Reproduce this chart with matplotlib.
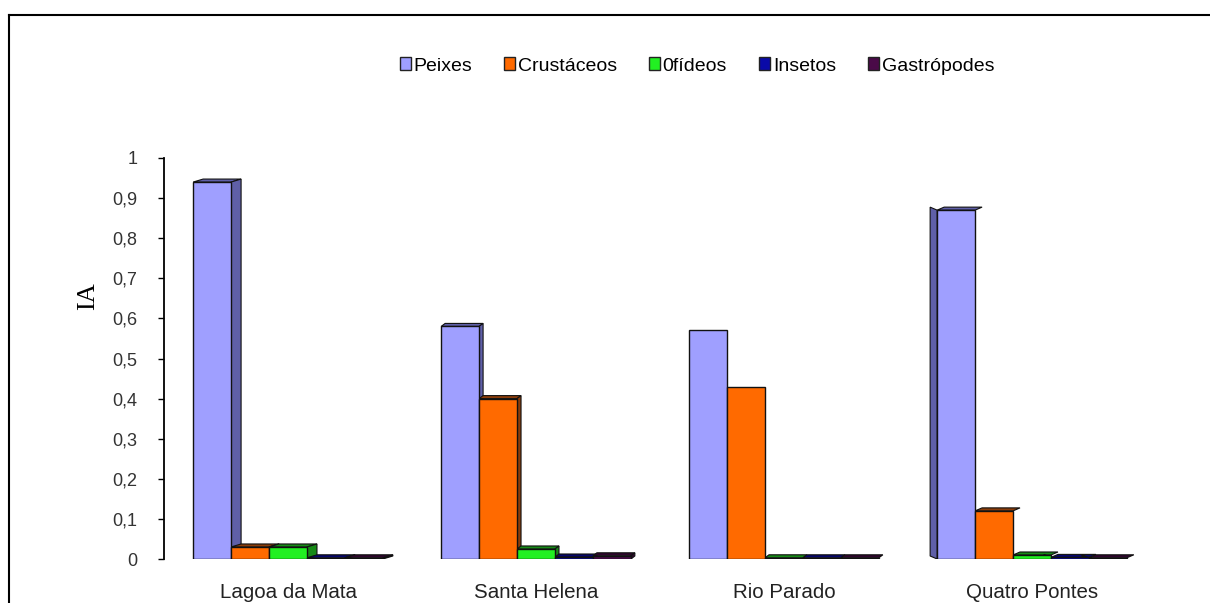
import numpy as np
import matplotlib
matplotlib.use("Agg")
import matplotlib.pyplot as plt
from matplotlib.patches import Polygon
from matplotlib.lines import Line2D

# data
sites = ["Lagoa da Mata", "Santa Helena", "Rio Parado", "Quatro Pontes"]
groups = ["Peixes", "Crustáceos", "0fídeos", "Insetos", "Gastrópodes"]
peixes = [0.94, 0.58, 0.57, 0.87]
crustaceos = [0.03, 0.40, 0.43, 0.12]
ofideos = [0.03, 0.025, 0.003, 0.01]
insetos = [0.003, 0.005, 0.003, 0.004]
gastropodes = [0.003, 0.008, 0.003, 0.003]
yticks = [0, 0.1, 0.2, 0.3, 0.4, 0.5, 0.6, 0.7, 0.8, 0.9, 1]
ytick_labels = ["0", "0,1", "0,2", "0,3", "0,4", "0,5", "0,6", "0,7", "0,8", "0,9", "1"]

series = [peixes, crustaceos, ofideos, insetos, gastropodes]
front = ["#9f9fff", "#ff6a00", "#22f022", "#0a0aa8", "#4a0a48"]
side = ["#5f5fa8", "#8a3c0a", "#168a16", "#06066a", "#2e052c"]

plt.rcParams["font.family"] = ["Liberation Sans", "DejaVu Sans"]

fig = plt.figure(figsize=(12.1, 6.03), dpi=100)
ax = fig.add_axes([164 / 1210, 44 / 603, 992 / 1210, 401 / 603])

x = np.arange(len(sites))
w = 0.153
# perspective depth per site, in pixels (positive: side face on right)
depth_px = [10, 4, 0, -7]
dy_px = 3
px_x = 1 / 248.0
px_y = 1 / 401.0

for i, vals in enumerate(series):
    pos = x + (i - 2) * w
    ax.bar(pos, vals, width=w, color=front[i], edgecolor="#111111",
           linewidth=1.0, zorder=3, label=groups[i])
    for j, (p, h) in enumerate(zip(pos, vals)):
        dx = depth_px[j] * px_x
        dy = dy_px * px_y
        x0, x1 = p - w / 2, p + w / 2
        if dx != 0 or h < 0.02:
            sh = abs(dx) if dx != 0 else 4 * px_x
            top = Polygon([(x0, h), (x1, h), (x1 + sh, h + dy), (x0 + sh, h + dy)],
                          closed=True, facecolor=side[i], edgecolor="#111111",
                          linewidth=0.8, zorder=2)
            ax.add_patch(top)
        if dx != 0:
            xe = x1 if dx > 0 else x0
            sd = Polygon([(xe, 0), (xe + dx, dy), (xe + dx, h + dy), (xe, h)],
                         closed=True, facecolor=side[i], edgecolor="#111111",
                         linewidth=0.8, zorder=2)
            ax.add_patch(sd)

ax.set_xlim(-0.5, len(sites) - 0.5)
ax.set_ylim(0, 1)
ax.set_xticks(x)
ax.set_xticklabels(sites, fontsize=14.8, color="#222222")
ax.tick_params(axis="x", length=0, pad=17)
ax.set_yticks(yticks)
ax.set_yticklabels(ytick_labels, fontsize=13, color="#333333")
ax.tick_params(axis="y", direction="out", length=4, width=1, pad=15)
for s in ["top", "right", "bottom"]:
    ax.spines[s].set_visible(False)
ax.spines["left"].set_linewidth(1.3)

fig.text(88 / 1210, 1 - 296 / 603, "IA", rotation=90, ha="center", va="center",
         fontsize=19, family=["Liberation Serif", "DejaVu Serif"])

handles = [plt.Rectangle((0, 0), 1, 1, facecolor=front[i], edgecolor="#222222")
           for i in range(len(groups))]
fig.legend(handles, groups, loc="center", bbox_to_anchor=(697 / 1210, 1 - 66 / 603),
           ncol=5, frameon=False, fontsize=14, handlelength=0.55, handleheight=0.6,
           handletextpad=0.15, columnspacing=1.65)

# outer frame (top and left edge visible)
fig.add_artist(Line2D([9 / 1210, 1], [1 - 15 / 603, 1 - 15 / 603], color="black", linewidth=1.5))
fig.add_artist(Line2D([9 / 1210, 9 / 1210], [0, 1 - 15 / 603], color="black", linewidth=1.5))

fig.savefig("out.png", dpi=100)
